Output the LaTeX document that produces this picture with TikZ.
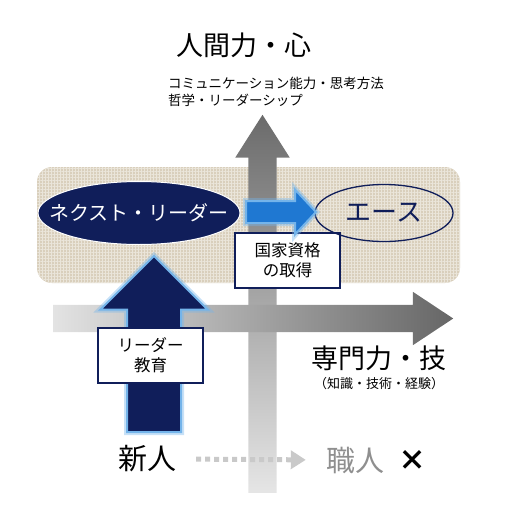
\documentclass[tikz,border=0pt]{standalone}
\usepackage{fontspec}
\setmainfont{Noto Sans CJK JP}
\usetikzlibrary{positioning,shapes.geometric,shapes.arrows,arrows.meta,patterns.meta}
\definecolor{navy}{HTML}{101E5A}
\definecolor{glow}{HTML}{74B4EA}
\definecolor{arrowblue}{HTML}{1F78D2}
\definecolor{beige}{HTML}{D9CFBC}
\definecolor{craftgray}{HTML}{8F8F8F}
\definecolor{dotgray}{HTML}{C9C9C9}
\newcommand{\fsz}[2]{\fontsize{#1}{#2}\selectfont}

\begin{document}
\begin{tikzpicture}[x=1pt, y=-1pt,
  caption/.style={inner sep=0pt, font=\fsz{27}{32}},
  note/.style={inner sep=0pt, align=left, font=\fsz{13.5}{17}},
  board/.style={rectangle, rounded corners=15pt, fill=beige, minimum width=423pt, minimum height=116pt,
    postaction={pattern={Hatch[angle=0, distance=3pt, line width=0.35pt]}, pattern color=beige!55!white}},
  fat/.style={single arrow, anchor=tail, inner xsep=0pt, single arrow head indent=0pt},
  glowing/.style={fat, draw=glow, line width=2pt, preaction={draw=glow, line width=6pt, opacity=.4}},
  textbox/.style={rectangle, fill=white, draw=navy, line width=1.2pt, minimum width=105pt, minimum height=55pt,
    align=center, font=\fsz{16.5}{20}},
  level/.style={ellipse, inner ysep=0pt},
  walk/.style={line width=5pt, dotgray, dash pattern=on 5pt off 4pt, shorten <=20pt, shorten >=20pt,
    -{Triangle[length=15pt, width=18pt]}}]

\useasboundingbox (0,0) rectangle (520,525);

%Nodes
\node[caption] (human)    at (244,45)  {人間力・心};
\node[note, anchor=north west] (humannote) at (168,77) {コミュニケーション能力・思考方法\\哲学・リーダーシップ};

\node[board] (frame) at (248.5,225) {};

\node[fat, rotate=90, minimum height=378pt, inner ysep=14pt, single arrow head extend=13pt,
  single arrow tip angle=65, top color=black!58, bottom color=gray!20] (humanaxis) at (262.5,493) {};
\node[fat, minimum height=400pt, inner ysep=13.5pt, single arrow head extend=13pt,
  single arrow tip angle=67, left color=gray!22, right color=black!60] (skillaxis) at (53,318.5) {};

\node[glowing, rotate=90, fill=navy, minimum height=176pt, inner ysep=26pt,
  single arrow head extend=26.5pt, single arrow tip angle=90] (training) at (154,433) {};

\node[textbox] (edu)      at (150.5,355.5) {リーダー\\教育};
\node[textbox] (license)  at (287.5,260.5) {国家資格\\の取得};

\node[level, fill=navy, draw=white, line width=1pt, text=white, inner xsep=-19pt,
  minimum width=202pt, minimum height=63pt, font=\fsz{20}{24}] (next) at (139,213) {ネクスト・リーダー};
\node[level, draw=navy, line width=1.3pt, text=navy, minimum width=138pt, minimum height=57pt,
  font=\fsz{26}{30}] (ace) at (384,213) {エース};

\node[glowing, fill=arrowblue, minimum height=70pt, inner ysep=10pt,
  single arrow head extend=11.5pt, single arrow tip angle=94] (promote) at (245,212) {};

\node[caption] (skill)    at (379,358) {専門力・技};
\node[inner sep=0pt, font=\fsz{13}{15}] (skillnote) [below=6pt of skill] {（知識・技術・経験）};

\node[inner sep=0pt, font=\fsz{29}{32}] (newbie) at (147,459) {新人};
\node[inner sep=0pt, font=\fsz{29}{32}, text=craftgray] (craft) at (355,460) {職人};
\node[inner sep=0pt, font=\bfseries\fsz{28}{32}] (cross) [right=14pt of craft] {×};

%Lines
\draw[walk] (newbie.east) -- (craft.west);

\end{tikzpicture}
\end{document}
